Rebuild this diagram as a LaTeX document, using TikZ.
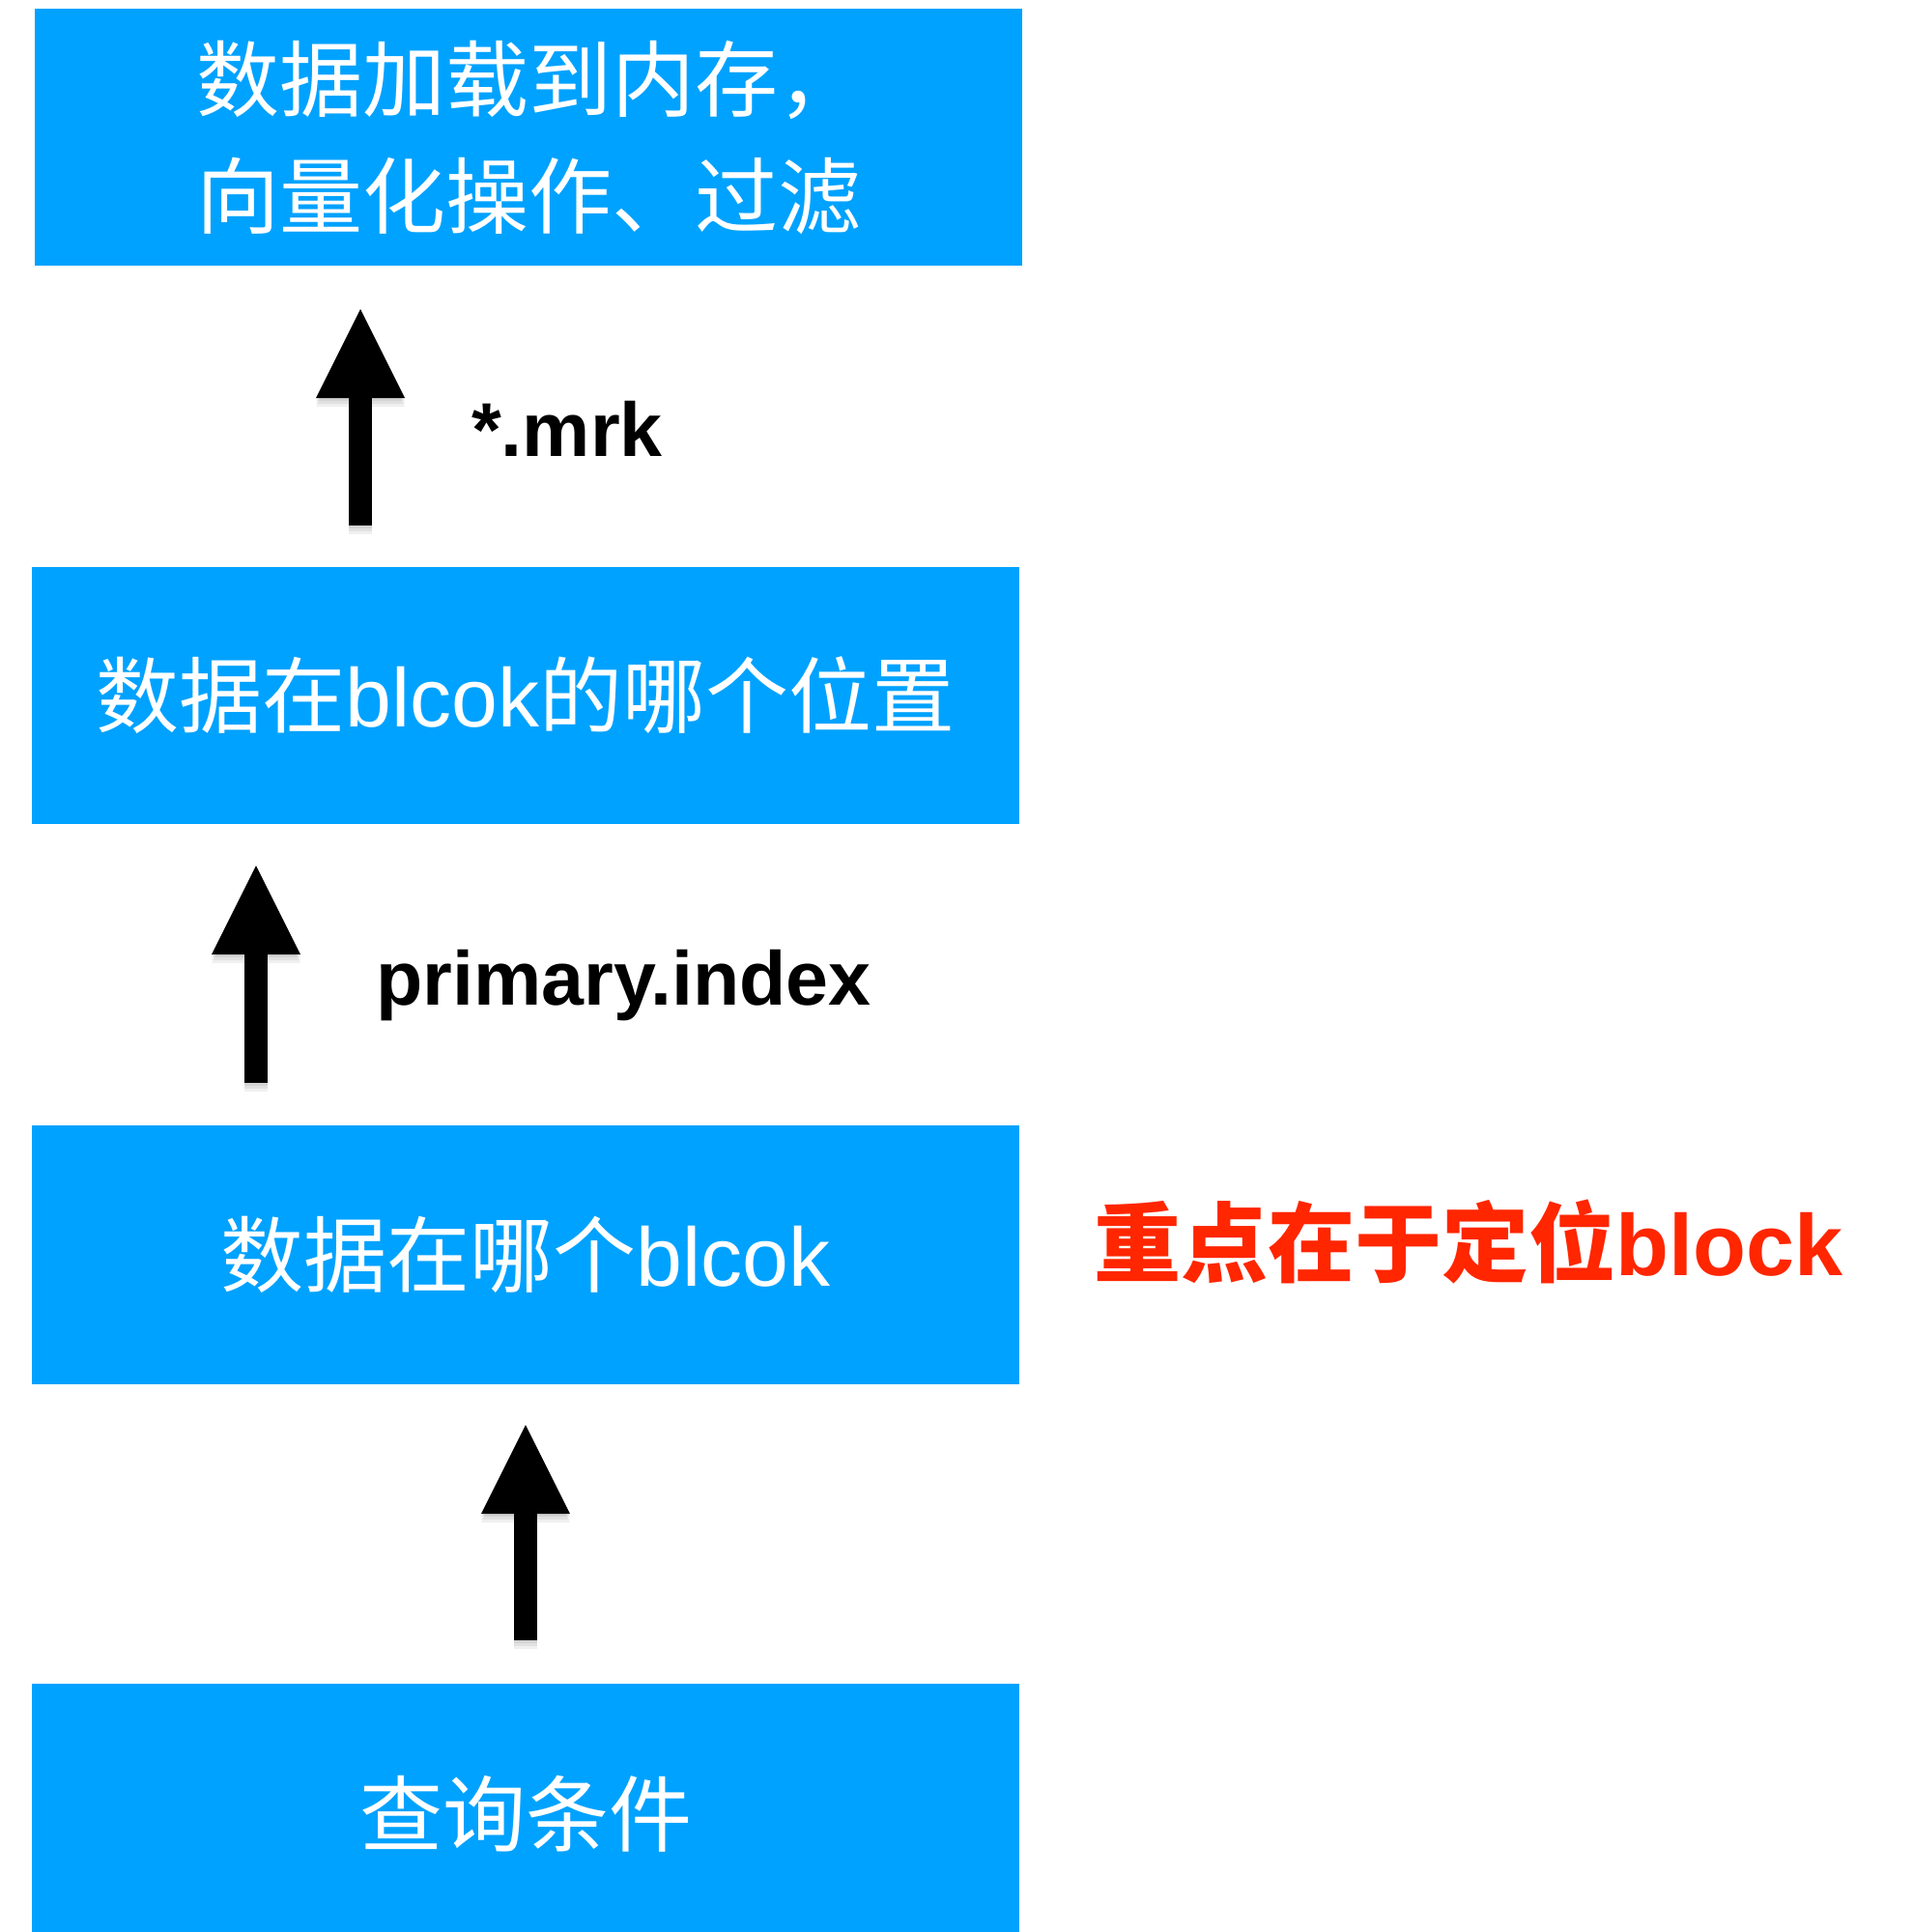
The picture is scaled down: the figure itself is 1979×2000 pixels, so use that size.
\documentclass[tikz,border=0pt]{standalone}
\usepackage{fontspec}
\setmainfont{Liberation Sans}
\newfontfamily\cjk{Noto Sans CJK SC}
\usetikzlibrary{arrows.meta}
\definecolor{boxblue}{HTML}{00A2FF}
\definecolor{hlred}{HTML}{FF2600}
\begin{document}
\begin{tikzpicture}[x=1pt,y=-1pt,
  blockbox/.style={fill=boxblue, draw=none, inner sep=0pt, outer sep=0pt,
    minimum width=1022pt, text=white, font=\fontsize{86}{121}\selectfont\cjk, align=left},
  bigarrow/.style={draw=black, line width=24pt,
    -{Triangle[length=92pt,width=92pt,line width=0pt]}},
  arrowshadow/.style={draw=black, draw opacity=0.06, fill opacity=0.06, line width=24pt,
    -{Triangle[length=92pt,width=92pt,line width=0pt]}},
  lbl/.style={font=\fontsize{79}{90}\selectfont\bfseries, text=black, inner sep=0pt, anchor=base west},
  note/.style={font=\fontsize{90}{100}\selectfont\bfseries, text=hlred, inner sep=0pt, anchor=base west}]
\useasboundingbox (0,0) rectangle (1979,2000);
\fill[white] (0,0) rectangle (1979,2000);

% boxes
\node[blockbox, minimum height=266pt] (b1) at (547,142) {数据加载到内存，\\向量化操作、过滤};
\node[blockbox, minimum height=266pt] (b2) at (544,720) {数据在{\rmfamily blcok}的哪个位置};
\node[blockbox, minimum height=268pt] (b3) at (544,1299) {数据在哪个{\rmfamily blcok}};
\node[blockbox, minimum height=270pt] (b4) at (544,1878) {查询条件};

% arrow end points
\coordinate (a1s) at (373,544);
\coordinate (a1e) at (373,320);
\coordinate (a2s) at (265,1121);
\coordinate (a2e) at (265,896);
\coordinate (a3s) at (544,1698);
\coordinate (a3e) at (544,1475);

% soft shadows
\foreach \s/\e in {a1s/a1e,a2s/a2e,a3s/a3e}{
  \draw[arrowshadow, transform canvas={yshift=-3pt}] (\s) -- (\e);
  \draw[arrowshadow, transform canvas={yshift=-6pt}] (\s) -- (\e);
  \draw[arrowshadow, transform canvas={yshift=-9pt}] (\s) -- (\e);
}

% arrows
\draw[bigarrow] (a1s) -- (a1e);
\draw[bigarrow] (a2s) -- (a2e);
\draw[bigarrow] (a3s) -- (a3e);

% labels
\node[lbl] (l1) at (488,472) {*.mrk};
\node[lbl] (l2) at (389,1040) {primary.index};
\node[note] (n1) at (1132,1320) {{\cjk 重点在于定位}block};
\end{tikzpicture}
\end{document}
